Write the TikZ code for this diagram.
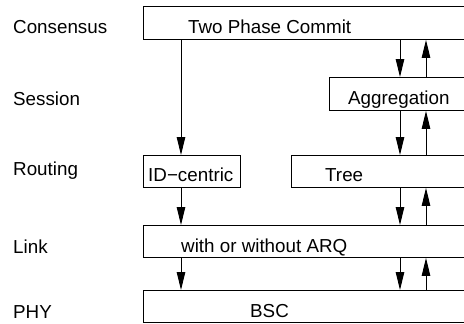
\documentclass[tikz,border=0pt]{standalone}
\usepackage{fontspec}
\setmainfont{Liberation Sans}
\usetikzlibrary{arrows.meta,calc}
\begin{document}
\begin{tikzpicture}[x=1pt,y=-1pt,
  box/.style={draw,line width=0.9pt,anchor=north west,inner sep=0pt},
  txt/.style={anchor=base west,inner sep=0pt,font=\fontsize{18.8}{20}\selectfont},
  arr/.style={line width=0.9pt,-{Triangle[length=18pt,width=8.5pt]}}]
\useasboundingbox (0,0) rectangle (464,324);
% left labels
\node[txt] (lc) at (13,33) {Consensus};
\node[txt] (ls) at (13,105) {Session};
\node[txt] (lr) at (13,175) {Routing};
\node[txt] (ll) at (13,253) {Link};
\node[txt] (lp) at (13,318) {PHY};
% boxes
\node[box,minimum width=340pt,minimum height=33pt] (tpc) at (143,6) {};
\node[box,minimum width=150pt,minimum height=33pt] (agg) at (329,77) {};
\node[box,minimum width=97pt,minimum height=32pt] (idc) at (143,155) {};
\node[box,minimum width=190pt,minimum height=32pt] (tree) at (291,155) {};
\node[box,minimum width=340pt,minimum height=32pt] (link) at (143,225) {};
\node[box,minimum width=340pt,minimum height=32pt] (phy) at (143,290) {};
% box texts
\node[txt] (ttpc) at (188,33) {Two Phase Commit};
\node[txt] (tagg) at (348,104) {Aggregation};
\node[txt] (tidc) at (148,181) {ID{\char"2212}centric};
\node[txt] (ttree) at (325,181) {Tree};
\node[txt] (tlink) at (181,252) {with or without ARQ};
\node[txt] (tphy) at (250,317) {BSC};
% arrow columns
\coordinate (L) at (181,0);
\coordinate (D) at (400,0);
\coordinate (U) at (426,0);
% arrows
\draw[arr] (L |- tpc.south) -- (L |- idc.north);
\draw[arr] (D |- tpc.south) -- (D |- agg.north);
\draw[arr] (U |- agg.north) -- (U |- tpc.south);
\draw[arr] (D |- agg.south) -- (D |- tree.north);
\draw[arr] (U |- tree.north) -- (U |- agg.south);
\draw[arr] (L |- idc.south) -- (L |- link.north);
\draw[arr] (D |- tree.south) -- (D |- link.north);
\draw[arr] (U |- link.north) -- (U |- tree.south);
\draw[arr] (L |- link.south) -- (L |- phy.north);
\draw[arr] (D |- link.south) -- (D |- phy.north);
\draw[arr] (U |- phy.north) -- (U |- link.south);
\end{tikzpicture}
\end{document}
